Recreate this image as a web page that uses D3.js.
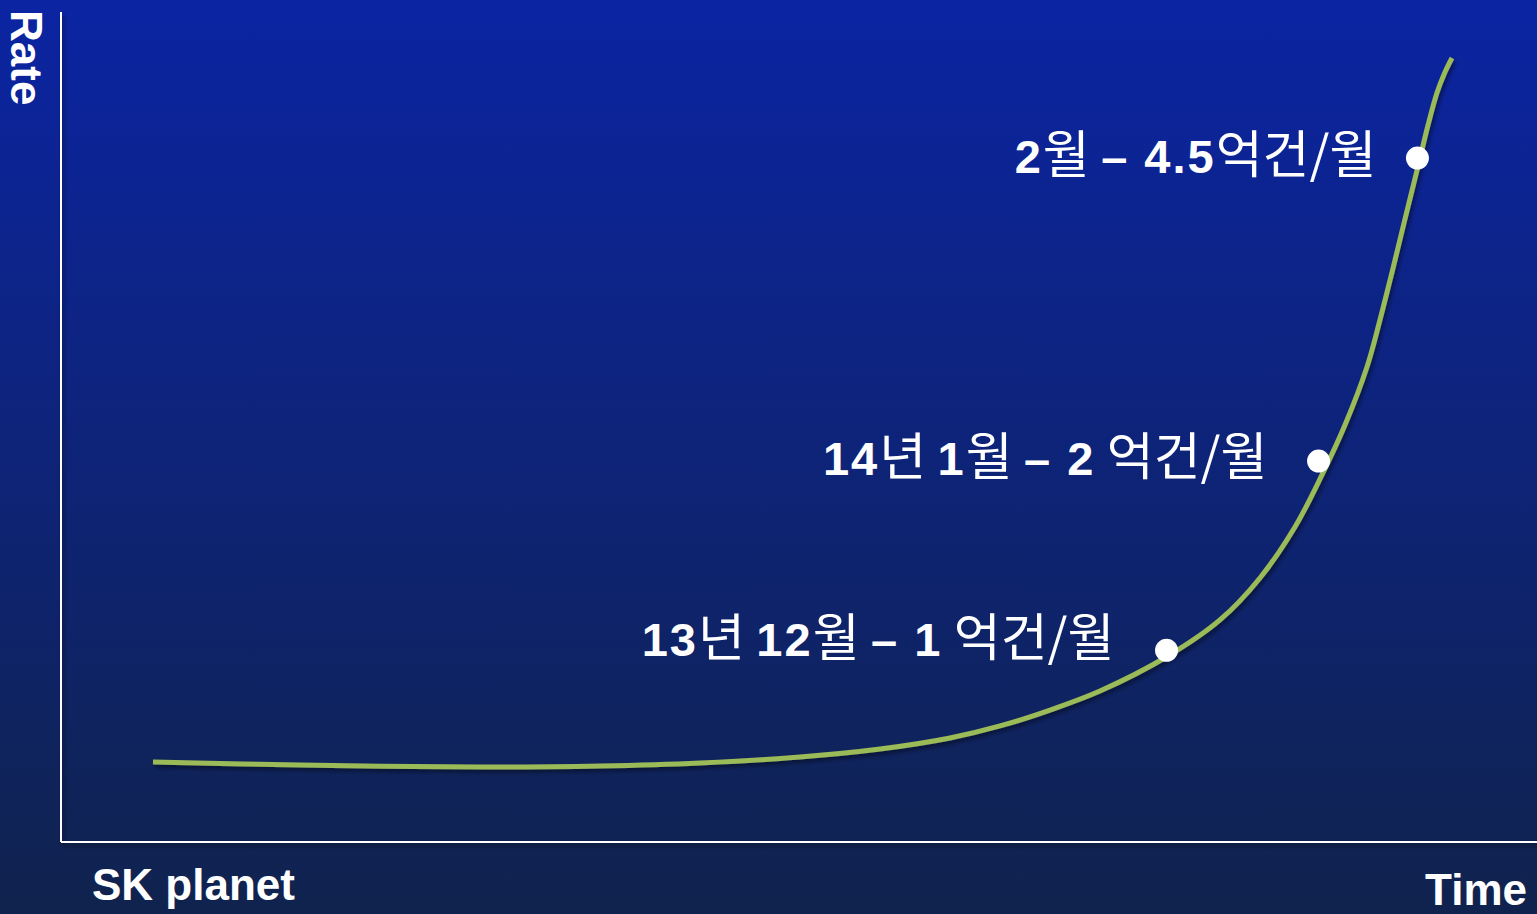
<!DOCTYPE html>
<html><head><meta charset="utf-8">
<script src="https://cdn.jsdelivr.net/npm/d3@7"></script>
<style>html,body{margin:0;padding:0;overflow:hidden;background:#0f2350}</style>
</head><body>
<script>
// Curve data (abstract units: time 0-100, rate 0-100)
const curveTime = [6.23, 16.19, 28.39, 36.52, 43.29, 50.07, 55.49, 60.23, 63.62, 67.01, 70.39, 75.00, 78.52, 81.23, 83.60, 85.43, 86.99, 88.48, 89.36, 90.18, 90.99, 92.01, 92.62, 93.22, 93.77, 94.24];
const curveRate = [9.64, 9.28, 9.04, 9.16, 9.52, 10.24, 11.20, 12.53, 13.98, 15.90, 18.19, 22.41, 26.75, 31.81, 37.95, 44.22, 50.24, 57.23, 62.89, 68.67, 74.58, 81.93, 86.39, 90.24, 92.77, 94.46];
// Annotated milestones
const markTime = [74.9, 85.2, 91.9];
const markRate = [23.1, 45.9, 82.4];
const markLabels = [
  [["13",1],["년 ",0],["12",1],["월 ",0],["– ",1],["1",1],[" 억건/월",0]],
  [["14",1],["년 ",0],["1",1],["월 ",0],["– ",1],["2",1],[" 억건/월",0]],
  [["2",1],["월 ",0],["– ",1],["4.5",1],["억건/월",0]]
];
const yTitle = "Rate", xTitle = "Time", brand = "SK planet";

// label placement (style only)
const labelGap = [52, 51, 41];
const labelDy = [6, 14, 15];

const W = 1537, H = 914;
const svg = d3.select("body").append("svg").attr("width", W).attr("height", H);
const defs = svg.append("defs");
const g = defs.append("linearGradient").attr("id","bg").attr("x1",0).attr("y1",0).attr("x2",0).attr("y2",1);
g.append("stop").attr("offset","0%").attr("stop-color","#0b24a2");
g.append("stop").attr("offset","100%").attr("stop-color","#10234e");
const f = defs.append("filter").attr("id","sh").attr("x","-10%").attr("y","-10%").attr("width","130%").attr("height","130%");
f.append("feDropShadow").attr("dx",2).attr("dy",3).attr("stdDeviation",2).attr("flood-color","#000").attr("flood-opacity",0.45);
svg.append("rect").attr("width",W).attr("height",H).attr("fill","url(#bg)");

const x = d3.scaleLinear().domain([0,100]).range([61,1537]);
const y = d3.scaleLinear().domain([0,100]).range([842,12]);

// axes
const ax = svg.append("g").attr("filter","url(#sh)");
ax.append("line").attr("x1",x(0)).attr("x2",x(0)).attr("y1",y(100)).attr("y2",y(0)).attr("stroke","#fff").attr("stroke-width",2);
ax.append("line").attr("x1",x(0)).attr("x2",x(100)).attr("y1",y(0)).attr("y2",y(0)).attr("stroke","#fff").attr("stroke-width",2);

// curve
const pts = curveTime.map((t,i)=>[t,curveRate[i]]);
const line = d3.line().x(d=>x(d[0])).y(d=>y(d[1])).curve(d3.curveCatmullRom.alpha(0.5));
svg.append("path").attr("d",line(pts)).attr("fill","none").attr("stroke","#9bbb59").attr("stroke-width",5).attr("filter","url(#sh)");

// markers
svg.selectAll("circle.m").data(markTime).join("circle").attr("class","m")
  .attr("cx",d=>x(d)).attr("cy",(d,i)=>y(markRate[i])).attr("r",11.5).attr("fill","#fff");

// labels
const font = "'Liberation Sans', Arial, 'Noto Sans CJK KR', sans-serif";
const kfont = "'Noto Sans CJK KR', sans-serif";
markTime.forEach((t,i)=>{
  const tx = svg.append("text").attr("x",x(t)-labelGap[i]).attr("y",y(markRate[i])+labelDy[i])
    .attr("text-anchor","end").attr("fill","#fff");
  markLabels[i].forEach(([s,b])=>{
    tx.append("tspan").text(s)
      .attr("font-weight",b?"bold":"normal")
      .attr("font-size",b?47:51)
      .attr("letter-spacing",b?2:0)
      .attr("font-family", b ? font : kfont);
  });
});

// titles
svg.append("text").attr("transform","translate(1,10) rotate(90)").attr("fill","#fff")
  .attr("font-size",44).attr("font-weight","bold").attr("font-family",font)
  .attr("dominant-baseline","text-after-edge")
  .attr("x",0).attr("y",0).attr("dy","-0.02em").text(yTitle);
svg.append("text").attr("x",92).attr("y",900).attr("fill","#fff").attr("font-size",44)
  .attr("font-weight","bold").attr("font-family",font).text(brand);
svg.append("text").attr("x",1527).attr("y",905).attr("text-anchor","end").attr("fill","#fff").attr("font-size",44)
  .attr("font-weight","bold").attr("font-family",font).text(xTitle);
</script>
</body></html>
